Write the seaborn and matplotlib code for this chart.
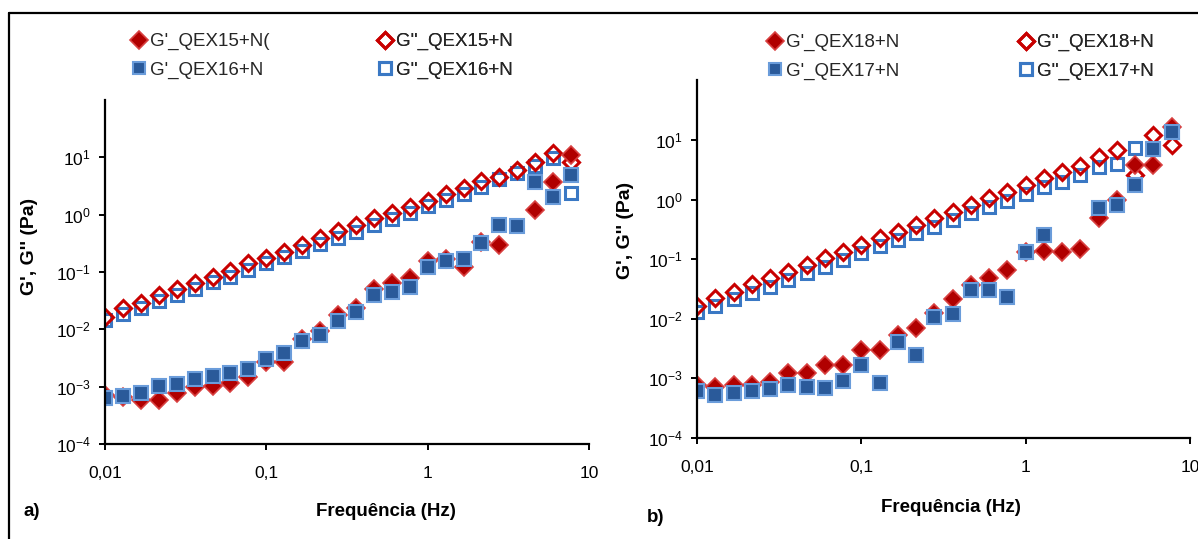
import numpy as np
import pandas as pd
import matplotlib
matplotlib.use("Agg")
import matplotlib.pyplot as plt
from matplotlib.lines import Line2D
import seaborn as sns

# frequencies (Hz)
freq = [0.01, 0.0129, 0.0167, 0.0215, 0.0278, 0.0359, 0.0464, 0.0599, 0.0774,
        0.1, 0.129, 0.167, 0.215, 0.278, 0.359, 0.464, 0.599, 0.774,
        1.0, 1.29, 1.67, 2.15, 2.78, 3.59, 4.64, 5.99, 7.74]

# panel a)
g1_qex15 = [0.000715, 0.000661, 0.000585, 0.000585, 0.000775, 0.000986, 0.00103, 0.00116, 0.00147,
            0.00269, 0.00269, 0.00678, 0.00935, 0.0178, 0.0235, 0.0505, 0.0643, 0.0785,
            0.156, 0.169, 0.122, 0.333, 0.296, np.nan, 1.21, 3.72, 11.0]
g2_qex15 = [0.0164, 0.0235, 0.0288, 0.0397, 0.0505, 0.0643, 0.0818, 0.104, 0.1435,
            0.175, 0.223, 0.296, 0.392, 0.519, 0.661, 0.875, 1.07, 1.36,
            1.73, 2.29, 2.92, 3.86, 4.54, 6.01, 8.29, 11.9, 8.29]
g1_qex16 = [0.000634, 0.000687, 0.000775, 0.00103, 0.00111, 0.00136, 0.00153, 0.00173, 0.00203,
            0.00303, 0.00386, 0.00625, 0.00796, 0.01397, 0.02, 0.0397, 0.0448, 0.0547,
            0.122, 0.156, 0.169, 0.321, 0.661, 0.634, 3.72, 2.03, 4.92]
g2_qex16 = [0.01455, 0.0185, 0.0235, 0.0312, 0.0397, 0.0505, 0.0668, 0.0818, 0.108,
            0.1435, 0.183, 0.232, 0.308, 0.392, 0.499, 0.661, 0.84, 1.07,
            1.42, 1.80, 2.29, 3.03, 4.19, 5.33, 7.06, 9.73, 2.39]

# panel b)
g1_qex18 = [0.000775, 0.000718, 0.000775, 0.000775, 0.000871, 0.00123, 0.00123, 0.00168, 0.00168,
            0.0030, 0.0030, 0.00535, 0.00702, 0.0125, 0.0215, 0.0369, 0.0484, 0.0659,
            0.132, 0.137, 0.132, 0.148, 0.491, 0.984, 3.81, 3.81, 16.5]
g2_qex18 = [0.0164, 0.0223, 0.0282, 0.0384, 0.0484, 0.061, 0.080, 0.1047, 0.132,
            0.173, 0.227, 0.286, 0.375, 0.491, 0.619, 0.811, 1.06, 1.34,
            1.76, 2.30, 2.90, 3.66, 5.19, 6.79, 2.59, 12.1, 8.24]
g1_qex17 = [0.000615, 0.000526, 0.000569, 0.000615, 0.000664, 0.000775, 0.000718, 0.00069, 0.000904,
            0.00168, 0.000838, 0.00408, 0.00247, 0.0107, 0.0120, 0.0304, 0.0304, 0.0232,
            0.132, 0.255, np.nan, np.nan, 0.723, 0.811, 1.76, 7.06, 13.6]
g2_qex17 = [0.0130, 0.0164, 0.0215, 0.0271, 0.0342, 0.0448, 0.0586, 0.074, 0.097,
            0.127, 0.166, 0.210, 0.275, 0.347, 0.455, 0.596, 0.752, 0.948,
            1.24, 1.63, 1.97, 2.59, 3.52, 3.95, 7.35, 7.06, 13.6]

xtick_vals = [0.01, 0.1, 1, 10]
xtick_labels = ["0,01", "0,1", "1", "10"]
ytick_vals = [1e-4, 1e-3, 1e-2, 1e-1, 1e0, 1e1]

sns.set_theme(style="white")
plt.rcParams['font.family'] = ['Liberation Sans', 'DejaVu Sans']
plt.rcParams['axes.unicode_minus'] = False
plt.rcParams['mathtext.default'] = 'regular'

RED = "#C80000"
BLUE_OPEN = "#3A78C4"
RED_FILL = "#B00000"
RED_EDGE = "#D84040"
BLUE_FILL = "#2A5A9A"
BLUE_EDGE = "#6A9CDA"

styles = {
    "g2_blue": dict(marker="s", ms=9.0, mfc="none", mec=BLUE_OPEN, mew=2.2),
    "g2_red": dict(marker="D", ms=8.3, mfc="none", mec=RED, mew=2.2),
    "g1_red": dict(marker="D", ms=9.3, mfc=RED_FILL, mec=RED_EDGE, mew=1.2),
    "g1_blue": dict(marker="s", ms=9.5, mfc=BLUE_FILL, mec=BLUE_EDGE, mew=1.5),
}

W, H = 1198, 539
fig = plt.figure(figsize=(W / 100, H / 100), dpi=100)


def px_box(x0, y0, x1, y1):
    return [x0 / W, 1 - y1 / H, (x1 - x0) / W, (y1 - y0) / H]


def draw_panel(ax, series):
    # series: list of (key, values)
    for key, vals in series:
        df = pd.DataFrame({"f": freq, "g": vals}).dropna()
        st = styles[key]
        sns.lineplot(data=df, x="f", y="g", ax=ax, linestyle="", legend=False,
                     color=st["mec"], marker=st["marker"], markersize=st["ms"],
                     markerfacecolor=st["mfc"], mec=st["mec"], mew=st["mew"])
    ax.set_xscale("log")
    ax.set_yscale("log")
    ax.set_xlim(0.01, 10)
    ax.set_ylim(1e-4, 1e2)
    ax.set_xticks(xtick_vals)
    ax.set_xticklabels(xtick_labels)
    ax.set_yticks(ytick_vals)
    ax.minorticks_off()
    ax.set_xlabel("")
    ax.set_ylabel("")
    for s in ["top", "right"]:
        ax.spines[s].set_visible(False)
    for s in ["left", "bottom"]:
        ax.spines[s].set_color("black")
        ax.spines[s].set_linewidth(1.6)
    ax.tick_params(axis="x", direction="out", length=4, width=1.4, pad=12,
                   labelsize=12.5, colors="black", bottom=True)
    ax.tick_params(axis="y", direction="out", length=4, width=1.4, pad=6,
                   labelsize=12.5, colors="black", left=True)
    ax.patch.set_alpha(0)


def add_legend(ax, entries, x_px, y_px):
    handles = []
    for key, lab in entries:
        st = styles[key]
        handles.append(Line2D([], [], linestyle="", marker=st["marker"], markersize=st["ms"] * 0.95,
                              markerfacecolor=st["mfc"], markeredgecolor=st["mec"],
                              markeredgewidth=st["mew"], label=lab))
    leg = ax.legend(handles=handles, loc="upper left", bbox_to_anchor=(x_px / W, 1 - y_px / H),
                    bbox_transform=fig.transFigure, frameon=False, fontsize=13.5,
                    handlelength=0.7, handletextpad=0.25, labelspacing=0.6,
                    borderpad=0, borderaxespad=0)
    ax.add_artist(leg)


ax1 = fig.add_axes(px_box(105, 100, 589, 444))
draw_panel(ax1, [("g2_blue", g2_qex16), ("g2_red", g2_qex15),
                 ("g1_red", g1_qex15), ("g1_blue", g1_qex16)])
add_legend(ax1, [("g1_red", "G'_QEX15+N("), ("g1_blue", "G'_QEX16+N")], 132, 33)
add_legend(ax1, [("g2_red", "G''_QEX15+N"), ("g2_blue", "G''_QEX16+N")], 378, 33)

ax2 = fig.add_axes(px_box(697, 80.4, 1190, 438))
draw_panel(ax2, [("g2_blue", g2_qex17), ("g2_red", g2_qex18),
                 ("g1_red", g1_qex18), ("g1_blue", g1_qex17)])
add_legend(ax2, [("g1_red", "G'_QEX18+N"), ("g1_blue", "G'_QEX17+N")], 768, 34)
add_legend(ax2, [("g2_red", "G''_QEX18+N"), ("g2_blue", "G''_QEX17+N")], 1019, 34)

bold = dict(fontweight="bold", color="black", ha="center", va="center")
fig.text(30 / W, 1 - 246 / H, "G', G'' (Pa)", rotation=90, fontsize=14, **bold)
fig.text(626 / W, 1 - 230 / H, "G', G'' (Pa)", rotation=90, fontsize=14, **bold)
fig.text(386 / W, 1 - 512 / H, "Frequência (Hz)", fontsize=13.5, **bold)
fig.text(951 / W, 1 - 508 / H, "Frequência (Hz)", fontsize=13.5, **bold)
fig.text(32 / W, 1 - 512 / H, "a)", fontsize=13.5, **bold)
fig.text(656 / W, 1 - 517 / H, "b)", fontsize=13.5, **bold)

# outer frame (top and left edges visible)
fig.add_artist(Line2D([9 / W, 1], [1 - 13 / H, 1 - 13 / H], color="black", lw=1.6,
                      transform=fig.transFigure))
fig.add_artist(Line2D([9 / W, 9 / W], [0, 1 - 13 / H], color="black", lw=1.6,
                      transform=fig.transFigure))

fig.savefig("out.png", dpi=100)
